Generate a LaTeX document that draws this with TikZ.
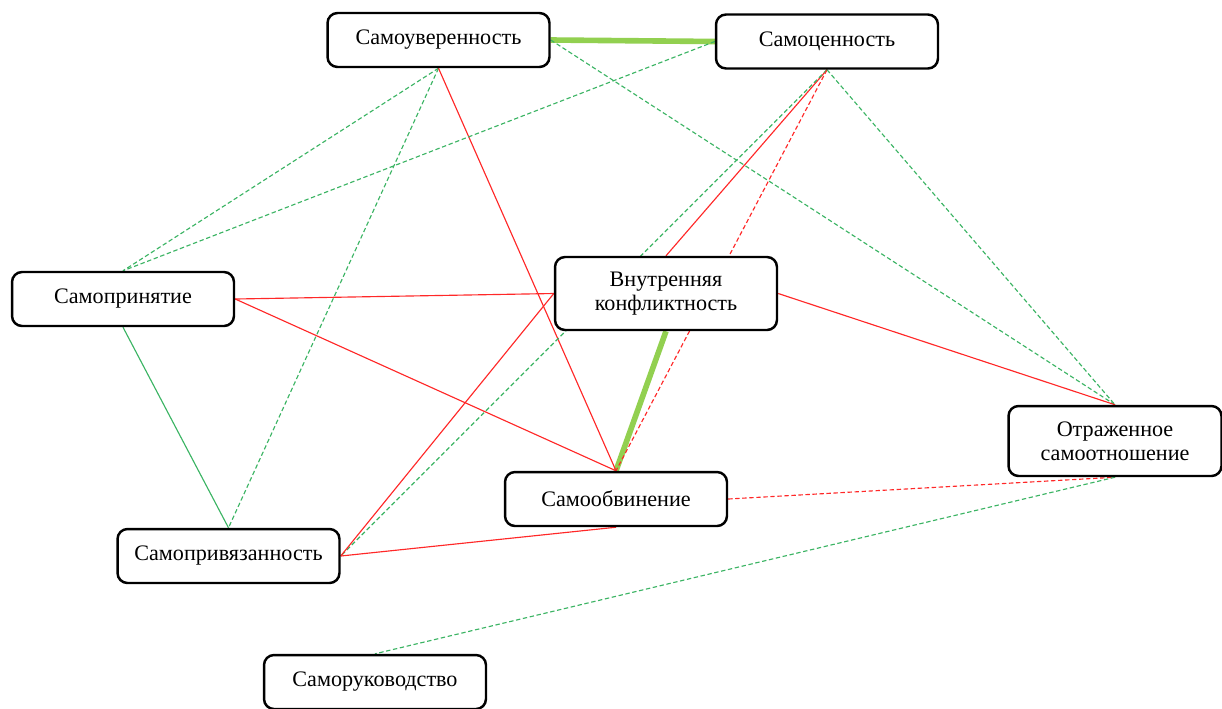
\documentclass[tikz,border=0pt]{standalone}
\usepackage{fontspec}
\setmainfont{Liberation Serif}
\usepackage{tikz}
\usetikzlibrary{positioning, backgrounds}

\definecolor{lightgreen}{RGB}{146,208,80}
\definecolor{dashgreen}{RGB}{60,180,100}
\definecolor{linkred}{RGB}{255,40,40}

\begin{document}
\begin{tikzpicture}[x=0.02cm, y=-0.02cm,
  main node/.style={rectangle, rounded corners=0.2cm, draw, fill=white, line width=1.4pt,
    minimum width=4.44cm, minimum height=1.08cm, align=center,
    font=\fontsize{12.6}{13.5}\selectfont},
  pos link/.style={dashgreen, line width=0.65pt},
  neg link/.style={linkred, line width=0.65pt},
  weak/.style={dash pattern=on 2.5pt off 1.5pt},
  strong link/.style={lightgreen, line width=3.2pt}]

\useasboundingbox (0,0) rectangle (1222,708);

\node[main node] (SU) at (438.5,40) {Самоуверенность};
\node[main node] (SC) at (827,41.5) {Самоценность};
\node[main node] (SP) at (123,299) {Самопринятие};
\node[main node, minimum height=1.46cm] (VK) at (666,293.5) {Внутренняя\\конфликтность};
\node[main node, minimum width=4.26cm, minimum height=1.4cm] (OS) at (1115,441) {Отраженное\\самоотношение};
\node[main node] (SO) at (616,499) {Самообвинение};
\node[main node] (SPR) at (228.5,556) {Самопривязанность};
\node[main node] (SR) at (375,682) {Саморуководство};

\begin{scope}[on background layer]
\path
(SU.east) edge[strong link] (SC.west)
(VK.south) edge[strong link] (SO.north)
(SU.east) edge[pos link, weak] (OS.north)
(SU.south) edge[pos link, weak] (SP.north)
(SU.south) edge[pos link, weak] (SPR.north)
(SU.south) edge[neg link] (SO.north)
(SC.west) edge[pos link, weak] (SP.north)
(SC.south) edge[neg link] (VK.north)
(SC.south) edge[pos link, weak] (SPR.east)
(SC.south) edge[neg link, weak] (SO.north)
(SC.south) edge[pos link, weak] (OS.north)
(SP.east) edge[neg link] (VK.west)
(SP.east) edge[neg link] (SO.north)
(SP.south) edge[pos link] (SPR.north)
(VK.east) edge[neg link] (OS.north)
(VK.west) edge[neg link] (SPR.east)
(SO.east) edge[neg link, weak] (OS.south)
(SO.south) edge[neg link] (SPR.east)
(OS.south) edge[pos link, weak] (SR.north)
;
\end{scope}

\end{tikzpicture}
\end{document}
